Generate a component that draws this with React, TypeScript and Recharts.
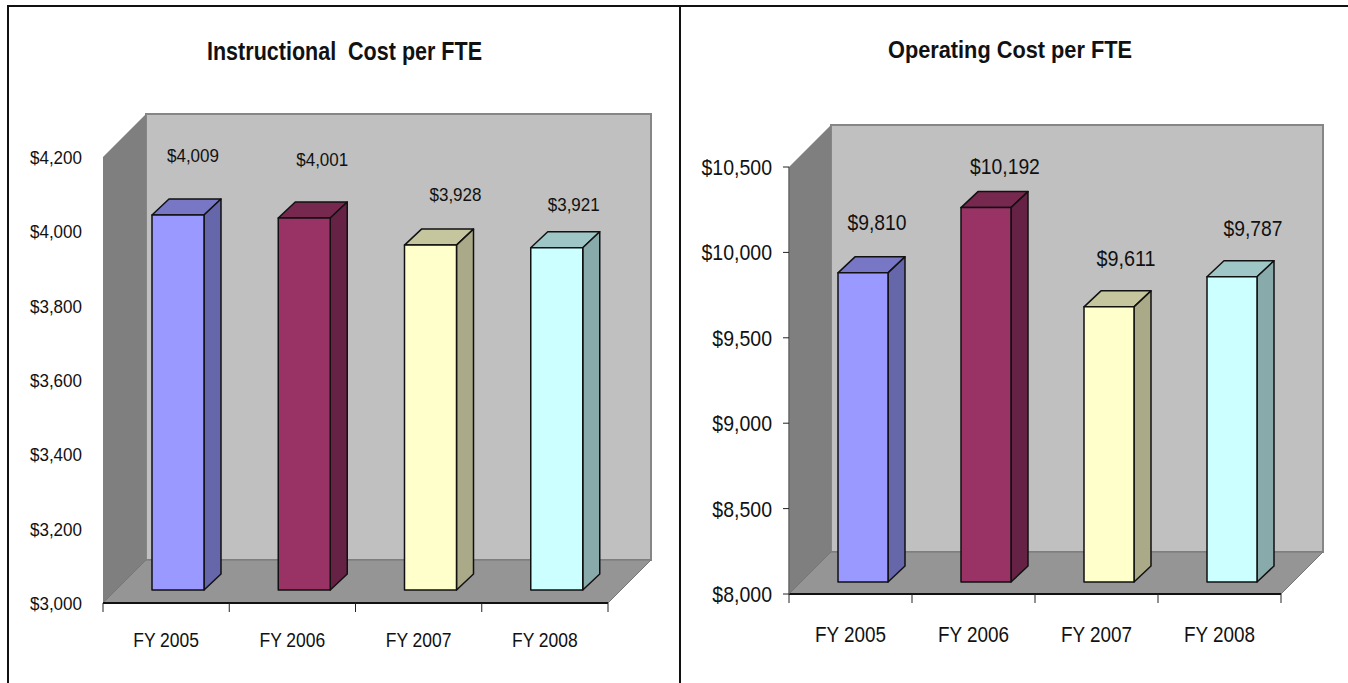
import React from 'react';
import { BarChart, Bar, XAxis, YAxis, Cell, LabelList } from 'recharts';

const fiscalYears = ['FY 2005', 'FY 2006', 'FY 2007', 'FY 2008'];
const instructionalCost = [4009, 4001, 3928, 3921];
const operatingCost = [9810, 10192, 9611, 9787];
const instructionalTicks = [3000, 3200, 3400, 3600, 3800, 4000, 4200];
const operatingTicks = [8000, 8500, 9000, 9500, 10000, 10500];

// front, top, side
const barColors = [
  ['#9999FF', '#7777C6', '#6666AA'],
  ['#993366', '#77284F', '#662244'],
  ['#FFFFCC', '#C6C69E', '#AAAA88'],
  ['#CCFFFF', '#9EC6C6', '#88AAAA'],
];

// the labels were placed by hand in the original, so they do not sit at a fixed distance
const instructionalNudge = [[15, 60], [18, 59], [25, 51], [17, 44]];
const operatingNudge = [[14, 51], [19, 42], [17, 49], [21, 49]];

const FONT = '"Liberation Sans", Arial, sans-serif';
const CHART_H = 683;

function money(v: number) {
  return '$' + v.toLocaleString('en-US');
}

// the source image is squeezed sideways, so text is tall and narrow
function emWidth(s: string) {
  let w = 0;
  for (const c of s) {
    if (c === ',' || c === ' ') w += 0.278;
    else if (c === 'F') w += 0.611;
    else if (c === 'Y') w += 0.667;
    else w += 0.556;
  }
  return w;
}

function Squished({ x, y, text, size, widthSize, anchor }: any) {
  return (
    <text
      x={x}
      y={y}
      textAnchor={anchor}
      fontFamily={FONT}
      fontSize={size}
      fill="#111"
      textLength={emWidth(text) * widthSize}
      lengthAdjust="spacingAndGlyphs"
    >
      {text}
    </text>
  );
}

function makeBar(shiftX: number, shiftY: number, depthX: number, depthY: number) {
  return function Bar3D(props: any) {
    const { x, y, width, height, index } = props;
    const [front, top, side] = barColors[index];
    const l = x + shiftX;
    const r = l + width;
    const t = y - shiftY;
    const b = t + height;
    return (
      <g stroke="#111" strokeWidth={1.5} strokeLinejoin="round">
        <polygon points={`${l},${t} ${r},${t} ${r + depthX},${t - depthY} ${l + depthX},${t - depthY}`} fill={top} />
        <polygon points={`${r},${t} ${r + depthX},${t - depthY} ${r + depthX},${b - depthY} ${r},${b}`} fill={side} />
        <rect x={l} y={t} width={width} height={height} fill={front} />
      </g>
    );
  };
}

function CostChart(props: any) {
  const { title, titleX, titleY, titleLen, titleSize, values, ticks, nudge, left, width, plotLeft, plotRight, plotTop, plotBottom, depth, barSize, shiftX, shiftY, tickFont, tickTall, catFont, catTall, labelFont, labelTall, showYLine, catY } = props;
  const data = fiscalYears.map((name, i) => ({ name, value: values[i] }));
  const Bar3D = makeBar(shiftX, shiftY, 17, 16);
  const yAxisW = 60;
  const band = (plotRight - plotLeft) / fiscalYears.length;

  const catTick = (p: any) => (
    <g>
      <line x1={p.x - band / 2} x2={p.x - band / 2} y1={plotBottom} y2={plotBottom + 9} stroke="#222" strokeWidth={1} />
      {p.index === fiscalYears.length - 1 && (
        <line x1={p.x + band / 2} x2={p.x + band / 2} y1={plotBottom} y2={plotBottom + 9} stroke="#222" strokeWidth={1} />
      )}
      <Squished x={p.x} y={catY} text={p.payload.value} size={catTall} widthSize={catFont} anchor="middle" />
    </g>
  );

  const valueTick = (p: any) => (
    <Squished x={p.x} y={p.y + tickTall * 0.36} text={money(p.payload.value)} size={tickTall} widthSize={tickFont} anchor="end" />
  );

  const valueLabel = (p: any) => {
    const [nx, ny] = nudge[p.index];
    return (
      <Squished
        x={p.x + p.width / 2 + shiftX + nx}
        y={p.y - shiftY - ny + labelTall * 0.36}
        text={money(p.value)}
        size={labelTall}
        widthSize={labelFont}
        anchor="middle"
      />
    );
  };

  return (
    <div style={{ position: 'absolute', left, top: 0, width, height: CHART_H }}>
      <BarChart
        width={width}
        height={CHART_H}
        data={data}
        barSize={barSize}
        margin={{ top: plotTop, right: width - plotRight, bottom: CHART_H - plotBottom - 50, left: plotLeft - yAxisW }}
      >
        <g>
          <text
            x={titleX}
            y={titleY}
            textAnchor="middle"
            fontFamily={FONT}
            fontSize={titleSize}
            fontWeight="bold"
            fill="#111"
            textLength={titleLen}
            lengthAdjust="spacingAndGlyphs"
            style={{ whiteSpace: 'pre' }}
          >
            {title}
          </text>
          <rect x={plotLeft + depth} y={plotTop - depth} width={plotRight - plotLeft} height={plotBottom - plotTop} fill="#C0C0C0" stroke="#868686" strokeWidth={2} />
          <polygon
            points={`${plotLeft},${plotBottom} ${plotLeft},${plotTop} ${plotLeft + depth},${plotTop - depth} ${plotLeft + depth},${plotBottom - depth}`}
            fill="#7F7F7F"
          />
          <polygon
            points={`${plotLeft},${plotBottom} ${plotLeft + depth},${plotBottom - depth} ${plotRight + depth},${plotBottom - depth} ${plotRight},${plotBottom}`}
            fill="#959595"
            stroke="#777"
            strokeWidth={1}
          />
        </g>
        <XAxis
          dataKey="name"
          interval={0}
          height={50}
          tick={catTick}
          tickLine={false}
          axisLine={{ stroke: '#111', strokeWidth: 2 }}
        />
        <YAxis
          width={yAxisW}
          type="number"
          domain={[ticks[0], ticks[ticks.length - 1]]}
          ticks={ticks}
          interval={0}
          tick={valueTick}
          tickLine={showYLine ? { stroke: '#222' } : false}
          tickSize={showYLine ? 6 : 0}
          tickMargin={showYLine ? 11 : 21}
          axisLine={showYLine ? { stroke: '#666', strokeWidth: 1.5 } : false}
        />
        <Bar dataKey="value" isAnimationActive={false} shape={Bar3D}>
          {data.map((d) => (
            <Cell key={d.name} />
          ))}
          <LabelList dataKey="value" content={valueLabel} />
        </Bar>
      </BarChart>
    </div>
  );
}

export default function App() {
  return (
    <div style={{ position: 'absolute', left: 0, top: 0, width: 1348, height: CHART_H, background: '#fff', overflow: 'hidden' }}>
      <CostChart
        title="Instructional  Cost per FTE"
        titleX={344.5}
        titleY={60}
        titleLen={275}
        titleSize={25}
        values={instructionalCost}
        ticks={instructionalTicks}
        nudge={instructionalNudge}
        left={0}
        width={680}
        plotLeft={103}
        plotRight={608}
        plotTop={157}
        plotBottom={603}
        depth={43}
        barSize={52}
        shiftX={12}
        shiftY={13}
        tickFont={17}
        tickTall={19}
        catFont={17.4}
        catTall={20}
        labelFont={17}
        labelTall={19}
        catY={647}
        showYLine={false}
      />
      <CostChart
        title="Operating Cost per FTE"
        titleX={330}
        titleY={58}
        titleLen={244}
        titleSize={24}
        values={operatingCost}
        ticks={operatingTicks}
        nudge={operatingNudge}
        left={680}
        width={668}
        plotLeft={109}
        plotRight={601}
        plotTop={167}
        plotBottom={594}
        depth={42}
        barSize={50}
        shiftX={12}
        shiftY={12}
        tickFont={19.5}
        tickTall={22}
        catFont={18.8}
        catTall={22}
        labelFont={19.3}
        labelTall={22}
        catY={642}
        showYLine={true}
      />
      <div style={{ position: 'absolute', left: 7, top: 5, width: 1341, height: 2, background: '#111' }} />
      <div style={{ position: 'absolute', left: 7, top: 5, width: 2, height: 678, background: '#111' }} />
      <div style={{ position: 'absolute', left: 679, top: 5, width: 2, height: 678, background: '#111' }} />
    </div>
  );
}
